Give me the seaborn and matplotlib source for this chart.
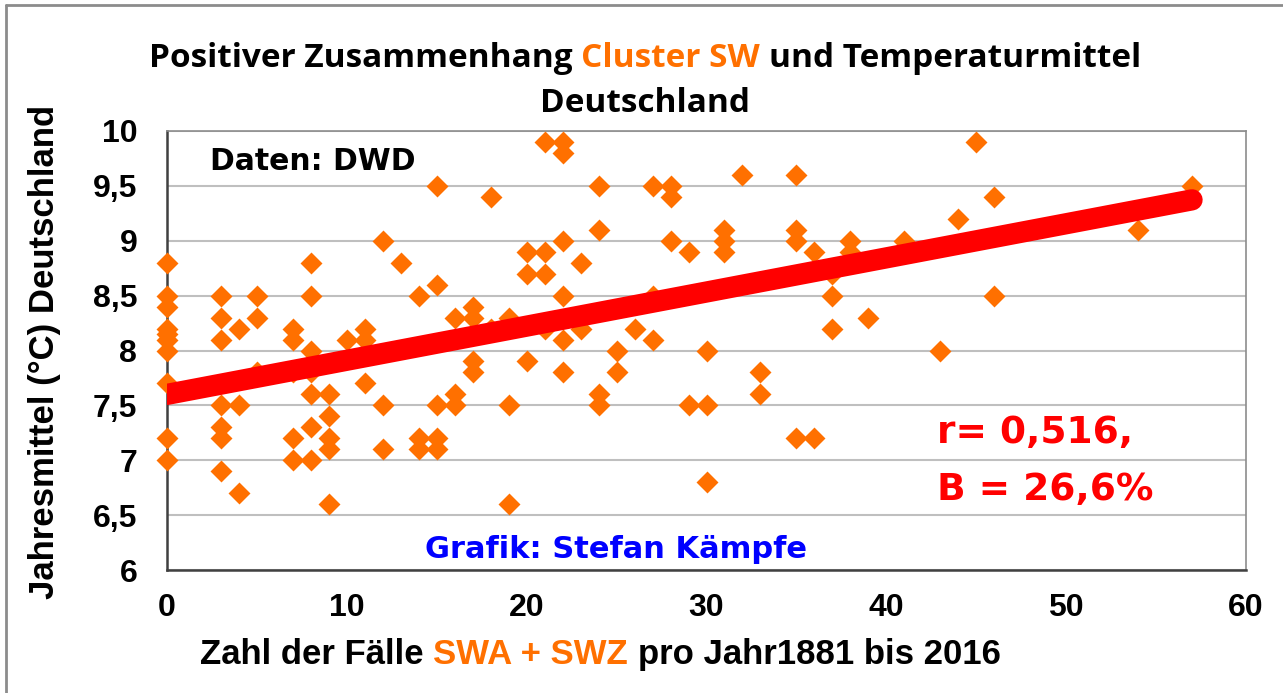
import numpy as np
import pandas as pd
import matplotlib
matplotlib.use("Agg")
import matplotlib.pyplot as plt
import seaborn as sns
from matplotlib.lines import Line2D

# ---------------- data ----------------
faelle = [0]*10 + [3]*7 + [4]*3 + [5]*3 + [7]*5 + [8]*7 + [9]*5 + [10] + [11]*3 + [12]*3 + [13] \
    + [14]*3 + [15]*5 + [16]*3 + [17]*4 + [18]*2 + [19]*3 + [20]*3 + [21]*4 + [22]*6 + [23]*2 \
    + [24]*4 + [25]*2 + [26] + [27]*3 + [28]*3 + [29]*2 + [30]*3 + [31]*3 + [32] + [33]*2 \
    + [35]*4 + [36]*2 + [37]*3 + [38]*2 + [39] + [41] + [43] + [44] + [45] + [46]*2 + [54] + [57]
temperatur = [
    8.8, 8.5, 8.4, 8.2, 8.15, 8.1, 8.0, 7.7, 7.2, 7.0,      # 0
    8.5, 8.3, 8.1, 7.5, 7.3, 7.2, 6.9,                     # 3
    8.2, 7.5, 6.7,                                         # 4
    8.5, 8.3, 7.8,                                         # 5
    8.2, 8.1, 7.8, 7.2, 7.0,                               # 7
    8.8, 8.5, 8.0, 7.8, 7.6, 7.3, 7.0,                     # 8
    7.6, 7.4, 7.2, 7.1, 6.6,                               # 9
    8.1,                                                   # 10
    8.2, 8.1, 7.7,                                         # 11
    9.0, 7.5, 7.1,                                         # 12
    8.8,                                                   # 13
    8.5, 7.2, 7.1,                                         # 14
    9.5, 8.6, 7.5, 7.2, 7.1,                               # 15
    8.3, 7.6, 7.5,                                         # 16
    8.4, 8.3, 7.9, 7.8,                                    # 17
    9.4, 8.2,                                              # 18
    8.3, 7.5, 6.6,                                         # 19
    8.9, 8.7, 7.9,                                         # 20
    9.9, 8.9, 8.7, 8.2,                                    # 21
    9.9, 9.8, 9.0, 8.5, 8.1, 7.8,                          # 22
    8.8, 8.2,                                              # 23
    9.5, 9.1, 7.6, 7.5,                                    # 24
    8.0, 7.8,                                              # 25
    8.2,                                                   # 26
    9.5, 8.5, 8.1,                                         # 27
    9.5, 9.4, 9.0,                                         # 28
    8.9, 7.5,                                              # 29
    8.0, 7.5, 6.8,                                         # 30
    9.1, 9.0, 8.9,                                         # 31
    9.6,                                                   # 32
    7.8, 7.6,                                              # 33
    9.6, 9.1, 9.0, 7.2,                                    # 35
    8.9, 7.2,                                              # 36
    8.7, 8.5, 8.2,                                         # 37
    9.0, 8.9,                                              # 38
    8.3,                                                   # 39
    9.0,                                                   # 41
    8.0,                                                   # 43
    9.2,                                                   # 44
    9.9,                                                   # 45
    9.4, 8.5,                                              # 46
    9.1,                                                   # 54
    9.5,                                                   # 57
]
# linear trend as drawn in the original chart
trend_intercept = 7.60
trend_slope = 0.0311

x_ticks = [0, 10, 20, 30, 40, 50, 60]
y_ticks = [6, 6.5, 7, 7.5, 8, 8.5, 9, 9.5, 10]
y_ticklabels = ["6", "6,5", "7", "7,5", "8", "8,5", "9", "9,5", "10"]

title_line1 = [("Positiver Zusammenhang", "black"), ("Cluster SW", "orange"),
               ("und Temperaturmittel", "black")]
title_line2 = "Deutschland"
xlabel_parts = [("Zahl der Fälle", "black"), ("SWA + SWZ", "orange"),
                ("pro Jahr1881 bis 2016", "black")]
ylabel = "Jahresmittel (°C) Deutschland"
txt_source = "Daten: DWD"
txt_author = "Grafik: Stefan Kämpfe"
txt_r = "r= 0,516,"
txt_b = "B = 26,6%"

ORANGE = "#FF7000"
RED = "#FF0000"
col = {"black": "black", "orange": ORANGE}

df = pd.DataFrame({"faelle": faelle, "temperatur": temperatur})
x_trend = [min(faelle), max(faelle)]
df_trend = pd.DataFrame({"faelle": x_trend,
                         "temperatur": [trend_intercept + trend_slope * v for v in x_trend]})

# ---------------- figure ----------------
sns.set_style("white")
plt.rcParams["font.family"] = ["Liberation Sans", "DejaVu Sans"]

W, H = 1283, 693
fig = plt.figure(figsize=(W / 100, H / 100), dpi=100)
ax = fig.add_axes([167 / W, 1 - 570 / H, (1246 - 167) / W, (570 - 131) / H])

sns.scatterplot(data=df, x="faelle", y="temperatur", ax=ax, marker="D", s=125,
                color=ORANGE, linewidth=0, alpha=1, zorder=3, clip_on=False)
sns.lineplot(data=df_trend, x="faelle", y="temperatur", ax=ax, color=RED, lw=15.3,
             solid_capstyle="round", zorder=4)

ax.set_xlim(0, 60)
ax.set_ylim(6, 10)
ax.set_xticks(x_ticks, labels=[str(v) for v in x_ticks])
ax.set_yticks(y_ticks, labels=y_ticklabels)
ax.set_xlabel("")
ax.set_ylabel("")
ax.yaxis.grid(True, color="#BFBFBF", lw=1.5)
ax.xaxis.grid(False)
ax.set_axisbelow(True)
for s in ["left", "bottom"]:
    ax.spines[s].set_color("#404040")
    ax.spines[s].set_linewidth(1.8)
    ax.spines[s].set_zorder(2.5)
for s in ["top", "right"]:
    ax.spines[s].set_color("#8C8C8C")
    ax.spines[s].set_linewidth(1.2)
ax.tick_params(axis="both", direction="out", length=7.5, width=1.5, color="#404040",
               labelsize=23, labelcolor="black")
ax.tick_params(axis="x", pad=9)
ax.tick_params(axis="y", pad=14)
for lab in ax.get_xticklabels() + ax.get_yticklabels():
    lab.set_fontweight("bold")

# outer chart border (left and top visible)
fig.add_artist(Line2D([6 / W, 6 / W], [0, 1 - 5 / H], transform=fig.transFigure,
                      color="#8C8C8C", lw=2))
fig.add_artist(Line2D([6 / W, 1], [1 - 5 / H, 1 - 5 / H], transform=fig.transFigure,
                      color="#8C8C8C", lw=2))

renderer = fig.canvas.get_renderer()


def text_w(s, **kw):
    t = fig.text(0, 0, s, **kw)
    w = t.get_window_extent(renderer).width
    t.remove()
    return w


def multicolor(parts, x_px, y_px, ha, **kw):
    space = text_w("n n", **kw) - text_w("nn", **kw)
    widths = [text_w(s, **kw) for s, _ in parts]
    total = sum(widths) + space * (len(parts) - 1)
    cur = x_px - total / 2 if ha == "center" else x_px
    for (s, c), w in zip(parts, widths):
        fig.text(cur / W, 1 - y_px / H, s, color=col[c], va="baseline", ha="left", **kw)
        cur += w + space


title_kw = dict(fontsize=24, fontweight="bold", family=["Open Sans", "DejaVu Sans"])
multicolor(title_line1, 645, 67, "center", **title_kw)
fig.text(645 / W, 1 - 112 / H, title_line2, ha="center", va="baseline", color="black", **title_kw)

lab_kw = dict(fontsize=25, fontweight="bold", family=["Liberation Sans", "DejaVu Sans"])
multicolor(xlabel_parts, 200, 664, "left", **lab_kw)
fig.text(45 / W, 1 - 352 / H, ylabel, rotation=90, ha="center", va="center",
         color="black", **lab_kw)

dv = ["DejaVu Sans"]
fig.text(210 / W, 1 - 170 / H, txt_source, color="black", fontsize=21.5, fontweight="bold",
         family=dv, va="baseline")
fig.text(425 / W, 1 - 558 / H, txt_author, color="#0000FF", fontsize=22, fontweight="bold",
         family=dv, va="baseline")
fig.text(937 / W, 1 - 443 / H, txt_r, color=RED, fontsize=27, fontweight="bold",
         family=dv, va="baseline")
fig.text(937 / W, 1 - 500 / H, txt_b, color=RED, fontsize=27, fontweight="bold",
         family=dv, va="baseline")

fig.savefig("out.png", dpi=100, facecolor="white")
